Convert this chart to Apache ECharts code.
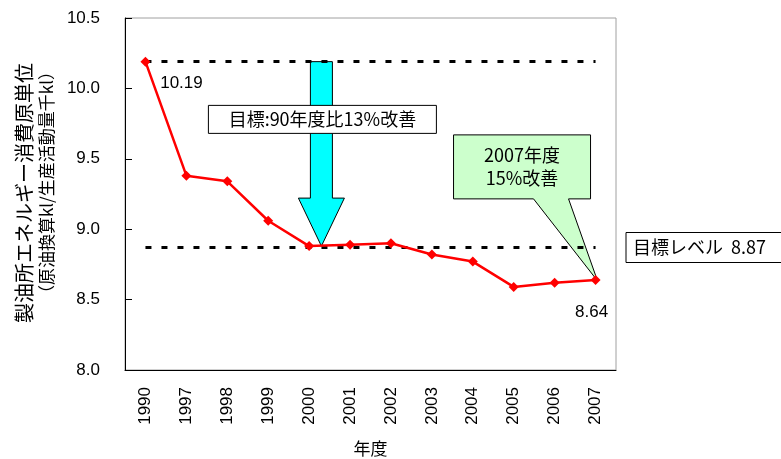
<!DOCTYPE html>
<html>
<head>
<meta charset="utf-8">
<script src="https://cdn.jsdelivr.net/npm/echarts@6/dist/echarts.min.js"></script>
<style>
  html, body { margin: 0; padding: 0; background: #fff; }
  #chart { width: 781px; height: 459px; }
</style>
</head>
<body>
<div id="chart"></div>
<script>
// Refinery energy intensity by fiscal year
const years = ['1990', '1997', '1998', '1999', '2000', '2001', '2002', '2003', '2004', '2005', '2006', '2007'];
const intensity = [10.19, 9.38, 9.34, 9.06, 8.88, 8.89, 8.90, 8.82, 8.77, 8.59, 8.62, 8.64];
const baseLevel = 10.19;   // FY1990 level
const targetLevel = 8.87;  // 13% below FY1990
const yMin = 8.0, yMax = 10.5, yStep = 0.5;

const FONT = "'Liberation Sans', 'Noto Sans CJK JP', sans-serif";
const JP = "'Noto Sans CJK JP', 'Liberation Sans', sans-serif";

const chart = echarts.init(document.getElementById('chart'), null, { renderer: 'canvas' });

// value labels only on the first and last year
const lineData = intensity.map((v, i) => {
  if (i === 0) {
    return { value: v, label: { show: true, position: 'bottom', offset: [36, 3] } };
  }
  if (i === intensity.length - 1) {
    return { value: v, label: { show: true, position: 'bottom', offset: [-4, 14] } };
  }
  return v;
});

function renderNotes(params, api) {
  const a = api.coord([4, baseLevel]);
  const b = api.coord([5, baseLevel]);
  const band = api.size([1, 0])[0];

  // downward arrow from the FY1990 level towards the target
  const ax = a[0] + (b[0] - a[0]) * 0.3;
  const topY = a[1];
  const tipY = api.coord([4, intensity[4]])[1];
  const headH = 48, shaftHalf = 11, headHalf = 23;
  const arrow = {
    type: 'polygon',
    shape: { points: [
      [ax - shaftHalf, topY], [ax + shaftHalf, topY], [ax + shaftHalf, tipY - headH],
      [ax + headHalf, tipY - headH], [ax, tipY], [ax - headHalf, tipY - headH],
      [ax - shaftHalf, tipY - headH]
    ] },
    style: { fill: '#00ffff', stroke: '#000', lineWidth: 1 }
  };

  // goal box on the arrow
  const goalY = api.coord([4, 9.78])[1];
  const goalBox = {
    type: 'rect',
    shape: { x: ax - 113, y: goalY - 14, width: 228, height: 28 },
    style: { fill: '#fff', stroke: '#000', lineWidth: 1 }
  };
  const goalText = {
    type: 'text',
    style: {
      x: ax + 1, y: goalY, text: '目標:90年度比13%改善',
      font: '18px ' + JP, fill: '#000', align: 'center', verticalAlign: 'middle'
    }
  };

  // callout pointing at FY2007
  const p = api.coord([11, intensity[11]]);
  const tx = p[0] + 2, ty = p[1] + 1;
  const L = tx - 144, R = tx - 7, T = ty - 146, B = ty - 82;
  const callout = {
    type: 'polygon',
    shape: { points: [[L, T], [R, T], [R, B], [tx - 29, B], [tx, ty], [tx - 64, B], [L, B]] },
    style: { fill: '#ccffcc', stroke: '#000', lineWidth: 1 }
  };
  const calloutText = {
    type: 'text',
    style: {
      x: (L + R) / 2, y: (T + B) / 2, text: '2007年度\n15%改善',
      font: '18px ' + JP, fill: '#000', align: 'center', verticalAlign: 'middle', lineHeight: 23
    }
  };

  // target level tag right of the plot
  const lvY = api.coord([11, targetLevel])[1];
  const lvX = p[0] + band / 2 + 10;
  const levelBox = {
    type: 'rect',
    shape: { x: lvX, y: lvY - 15, width: 180, height: 30 },
    style: { fill: '#fff', stroke: '#000', lineWidth: 1 }
  };
  const levelText = {
    type: 'text',
    style: {
      x: lvX + 7, y: lvY, text: '目標レベル  8.87',
      font: '18px ' + JP, fill: '#000', align: 'left', verticalAlign: 'middle'
    }
  };

  return { type: 'group', children: [arrow, goalBox, goalText, callout, calloutText, levelBox, levelText] };
}

const option = {
  animation: false,
  backgroundColor: '#fff',
  textStyle: { fontFamily: FONT },
  grid: {
    left: 125, right: 165, top: 18, bottom: 89,
    outerBoundsMode: 'none',
    containLabel: false,
    show: true, borderColor: '#a0a0a0', borderWidth: 1, backgroundColor: 'transparent'
  },
  xAxis: {
    type: 'category',
    data: years,
    boundaryGap: true,
    name: '年度',
    nameLocation: 'middle',
    nameGap: 70,
    nameTextStyle: { fontSize: 17, color: '#000', fontFamily: JP },
    axisLine: { lineStyle: { color: '#000', width: 1 } },
    axisTick: { inside: true, length: 6, lineStyle: { color: '#000' } },
    axisLabel: { rotate: 90, fontSize: 17, color: '#000', margin: 17, fontFamily: FONT },
    splitLine: { show: false }
  },
  yAxis: {
    type: 'value',
    min: yMin, max: yMax, interval: yStep,
    axisLine: { show: true, lineStyle: { color: '#000', width: 1 } },
    axisTick: { show: true, inside: true, length: 7, lineStyle: { color: '#000' } },
    axisLabel: {
      fontSize: 17, color: '#000', margin: 25, fontFamily: FONT,
      formatter: v => v.toFixed(1)
    },
    splitLine: { show: false }
  },
  graphic: [
    {
      type: 'text', x: 24, y: 63, rotation: Math.PI / 2,
      style: { text: '製油所エネルギー消費原単位', font: '20px ' + JP, fill: '#000', align: 'right', verticalAlign: 'middle' }
    },
    {
      type: 'text', x: 47, y: 63, rotation: Math.PI / 2,
      style: { text: '（原油換算kl/生産活動量千kl）', font: '17px ' + JP, fill: '#000', align: 'right', verticalAlign: 'middle' }
    }
  ],
  series: [
    {
      name: 'levels',
      type: 'line',
      data: [],
      z: 1,
      markLine: {
        silent: true,
        symbol: 'none',
        label: { show: false },
        lineStyle: { color: '#000', width: 3, type: [6, 10] },
        data: [
          [{ coord: [years[0], baseLevel] }, { coord: [years[years.length - 1], baseLevel] }],
          [{ coord: [years[0], targetLevel] }, { coord: [years[years.length - 1], targetLevel] }]
        ]
      }
    },
    {
      name: 'notes',
      type: 'custom',
      z: 3,
      clip: false,
      silent: true,
      data: [[0]],
      renderItem: renderNotes
    },
    {
      name: '原単位',
      type: 'line',
      z: 5,
      data: lineData,
      symbol: 'diamond',
      symbolSize: 10,
      lineStyle: { color: '#ff0000', width: 2.5 },
      itemStyle: { color: '#ff0000' },
      label: { fontSize: 17, color: '#000', fontFamily: FONT, formatter: p => p.value.toFixed(2) }
    }
  ]
};

chart.setOption(option);
</script>
</body>
</html>
